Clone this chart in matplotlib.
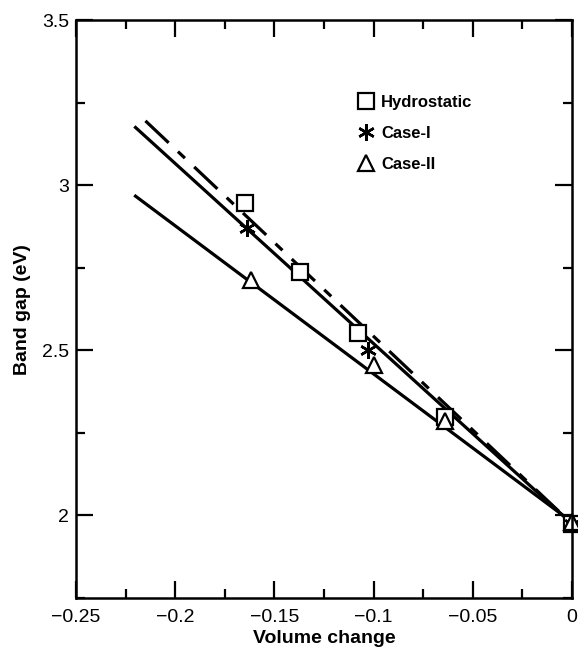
import matplotlib.pyplot as plt
from matplotlib.ticker import MultipleLocator

plt.rcParams['font.family'] = ['Liberation Sans', 'DejaVu Sans']

# data points
hydro_x = [-0.165, -0.137, -0.108, -0.064, 0.0]
hydro_y = [2.945, 2.736, 2.552, 2.297, 1.975]
case1_x = [-0.164, -0.103, 0.0]
case1_y = [2.87, 2.50, 1.975]
case2_x = [-0.162, -0.100, -0.064, 0.0]
case2_y = [2.712, 2.455, 2.285, 1.98]

# fitted lines (end points)
hydro_fit_x = [-0.215, 0.0]
hydro_fit_y = [3.195, 1.975]
case1_fit_x = [-0.220, 0.0]
case1_fit_y = [3.175, 1.975]
case2_fit_x = [-0.220, 0.0]
case2_fit_y = [2.967, 1.98]

fig = plt.figure(figsize=(5.78, 6.5), dpi=100)
ax = fig.add_axes([0.1315, 0.08, 0.858, 0.889])

ax.plot(hydro_fit_x, hydro_fit_y, color='black', lw=2.3,
        dashes=(10, 4, 3, 4))
ax.plot(case1_fit_x, case1_fit_y, color='black', lw=2.3)
ax.plot(case2_fit_x, case2_fit_y, color='black', lw=2.3)

ax.plot(hydro_x, hydro_y, ls='none', marker='s', ms=11, mfc='white',
        mec='black', mew=1.6, clip_on=False, label='Hydrostatic')
ax.plot(case1_x, case1_y, ls='none', marker=(6, 2, 0), ms=12,
        mec='black', mew=1.8, clip_on=False, label='Case-I')
ax.plot(case2_x, case2_y, ls='none', marker='^', ms=11, mfc='white',
        mec='black', mew=1.6, clip_on=False, label='Case-II')

ax.set_xlim(-0.25, 0)
ax.set_ylim(1.75, 3.5)
ax.xaxis.set_minor_locator(MultipleLocator(0.025))
ax.yaxis.set_minor_locator(MultipleLocator(0.25))
ax.set_xticks([-0.25, -0.2, -0.15, -0.1, -0.05, 0])
ax.set_xticklabels(['\u22120.25', '\u22120.2', '\u22120.15', '\u22120.1',
                    '\u22120.05', '0'])
ax.set_yticks([2, 2.5, 3, 3.5])
ax.set_yticklabels(['2', '2.5', '3', '3.5'])
ax.tick_params(which='both', direction='in', top=True, right=True,
               width=1.6, labelsize=14)
ax.tick_params(which='major', length=12)
ax.tick_params(which='minor', length=6.5)
ax.tick_params(axis='x', pad=8)
ax.tick_params(axis='y', pad=5)
for s in ax.spines.values():
    s.set_linewidth(1.8)

ax.set_xlabel('Volume change', fontsize=14, fontweight='bold', labelpad=3)
ax.set_ylabel('Band gap (eV)', fontsize=14, fontweight='bold', labelpad=8)

leg = ax.legend(loc='upper left', bbox_to_anchor=(0.551, 0.885), frameon=False,
                handletextpad=0.4, labelspacing=0.95, handlelength=1.0,
                borderpad=0, prop={'weight': 'bold', 'size': 12})

fig.savefig('out.png', dpi=100)
